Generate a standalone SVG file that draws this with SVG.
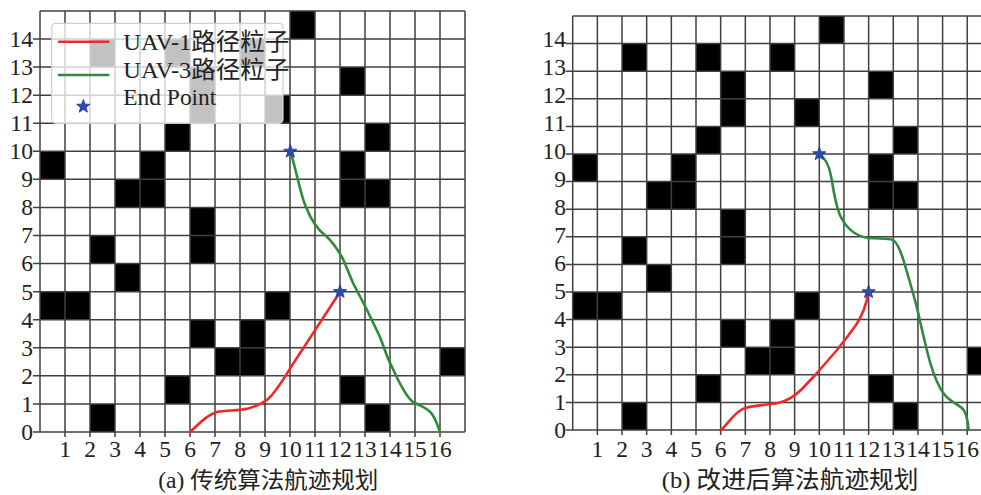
<svg xmlns="http://www.w3.org/2000/svg" xmlns:xlink="http://www.w3.org/1999/xlink" width="981" height="495" viewBox="0 0 981 495">
<style>
.obs rect{fill:#000}
.grid{fill:none;stroke:#404040;stroke-width:1.5}
.num{font-family:"Liberation Serif","Times New Roman",serif;font-size:23.5px;fill:#222}
.yl{text-anchor:end}
.xl{text-anchor:middle}
.cap{font-family:"Liberation Serif","Noto Sans CJK SC",serif;fill:#222}
.leg{font-family:"Liberation Serif","Noto Sans CJK SC",serif;font-size:24px;fill:#222}
.red{fill:none;stroke:#f02828;stroke-width:2.6;stroke-linecap:round;stroke-linejoin:round}
.green{fill:none;stroke:#2e8b3c;stroke-width:2.6;stroke-linecap:round;stroke-linejoin:round}
.star{fill:#2b4cb0;stroke:#1c3890;stroke-width:0.8}
</style>
<defs>
<path id="star" class="star" d="M0,-7 L1.7,-2.35 L6.66,-2.16 L2.76,0.9 L4.11,5.66 L0,2.9 L-4.11,5.66 L-2.76,0.9 L-6.66,-2.16 L-1.7,-2.35 Z"/>
<g id="obstacles" class="obs">
<rect x="10" y="14" width="1" height="1"/>
<rect x="2" y="13" width="1" height="1"/><rect x="5" y="13" width="1" height="1"/><rect x="8" y="13" width="1" height="1"/>
<rect x="6" y="11" width="1" height="2"/><rect x="12" y="12" width="1" height="1"/>
<rect x="9" y="11" width="1" height="1"/>
<rect x="5" y="10" width="1" height="1"/><rect x="13" y="10" width="1" height="1"/>
<rect x="0" y="9" width="1" height="1"/><rect x="4" y="8" width="1" height="2"/><rect x="12" y="8" width="1" height="2"/>
<rect x="3" y="8" width="1" height="1"/><rect x="13" y="8" width="1" height="1"/>
<rect x="6" y="6" width="1" height="2"/>
<rect x="2" y="6" width="1" height="1"/>
<rect x="3" y="5" width="1" height="1"/>
<rect x="0" y="4" width="2" height="1"/><rect x="9" y="4" width="1" height="1"/>
<rect x="6" y="3" width="1" height="1"/><rect x="8" y="2" width="1" height="2"/>
<rect x="7" y="2" width="1" height="1"/><rect x="16" y="2" width="1" height="1"/>
<rect x="5" y="1" width="1" height="1"/><rect x="12" y="1" width="1" height="1"/>
<rect x="2" y="0" width="1" height="1"/><rect x="13" y="0" width="1" height="1"/>
</g>
<path id="gridlines" class="grid" vector-effect="non-scaling-stroke" d="M-0.28,0H17M-0.28,1H17M-0.28,2H17M-0.28,3H17M-0.28,4H17M-0.28,5H17M-0.28,6H17M-0.28,7H17M-0.28,8H17M-0.28,9H17M-0.28,10H17M-0.28,11H17M-0.28,12H17M-0.28,13H17M-0.28,14H17M0,15H17M0,0V15M1,-0.18V15M2,-0.18V15M3,-0.18V15M4,-0.18V15M5,-0.18V15M6,-0.18V15M7,-0.18V15M8,-0.18V15M9,-0.18V15M10,-0.18V15M11,-0.18V15M12,-0.18V15M13,-0.18V15M14,-0.18V15M15,-0.18V15M16,-0.18V15M17,0V15"/>
</defs>
<rect width="981" height="495" fill="#fff"/>

<g id="panel-a">
<g id="grid-a" transform="translate(40,432) scale(25,-28.07)">
<use xlink:href="#obstacles"/>
<use xlink:href="#gridlines"/>
</g>
<g id="axis-a" class="num">
<text class="yl" x="33" y="440">0</text><text class="yl" x="33" y="411.9">1</text><text class="yl" x="33" y="383.8">2</text><text class="yl" x="33" y="355.7">3</text><text class="yl" x="33" y="327.6">4</text><text class="yl" x="33" y="299.5">5</text><text class="yl" x="33" y="271.4">6</text><text class="yl" x="33" y="243.3">7</text><text class="yl" x="33" y="215.2">8</text><text class="yl" x="33" y="187.1">9</text><text class="yl" x="33" y="159">10</text><text class="yl" x="33" y="130.9">11</text><text class="yl" x="33" y="102.8">12</text><text class="yl" x="33" y="74.7">13</text><text class="yl" x="33" y="46.6">14</text>
<text class="xl" x="65" y="456.7">1</text><text class="xl" x="90" y="456.7">2</text><text class="xl" x="115" y="456.7">3</text><text class="xl" x="140" y="456.7">4</text><text class="xl" x="165" y="456.7">5</text><text class="xl" x="190" y="456.7">6</text><text class="xl" x="215" y="456.7">7</text><text class="xl" x="240" y="456.7">8</text><text class="xl" x="265" y="456.7">9</text><text class="xl" x="290" y="456.7">10</text><text class="xl" x="315" y="456.7">11</text><text class="xl" x="340" y="456.7">12</text><text class="xl" x="365" y="456.7">13</text><text class="xl" x="390" y="456.7">14</text><text class="xl" x="415" y="456.7">15</text><text class="xl" x="440" y="456.7">16</text>
</g>
<g id="connectors-a">
<path id="uav1-a" class="red" d="M190,432 C198,425 206,415 217,412 C227,410 238,411 248,408.5 C257,406 262,404 268,399 C276,392 283,380 291,367 L340,292"/>
<path id="uav3-a" class="green" d="M290.3,151.3 C296,168 300,194 306,207 C311,220 318,230 326,236 C334,243 338,250 343,259 L353,283 L367,310 L380,337 C385,350 388,360 392,367 C396,375 404,395 413,402 C420,406 427,407 432,414 C436,420 438,426 440,432"/>
</g>
<g id="endpoints-a">
<use xlink:href="#star" x="290.3" y="151.5"/>
<use xlink:href="#star" x="340" y="291.8"/>
</g>
<g id="legend">
<rect x="51.7" y="23.3" width="231.3" height="100" rx="4" fill="#fff" fill-opacity="0.76" stroke="#cfcfcf" stroke-width="1.2"/>
<line x1="59" y1="41.7" x2="108.3" y2="41.7" class="red"/>
<line x1="59" y1="75" x2="108.3" y2="75" class="green"/>
<use xlink:href="#star" x="83.3" y="106.5"/>
<text class="leg" x="123.3" y="50" textLength="166" lengthAdjust="spacingAndGlyphs">UAV-1路径粒子</text>
<text class="leg" x="123.3" y="78.3" textLength="166" lengthAdjust="spacingAndGlyphs">UAV-3路径粒子</text>
<text class="leg" x="123.3" y="105" textLength="93" lengthAdjust="spacingAndGlyphs">End Point</text>
</g>
<text id="caption-a" class="cap" x="158.3" y="488" font-size="22.5" textLength="220" lengthAdjust="spacingAndGlyphs">(a) 传统算法航迹规划</text>
</g>

<g id="panel-b">
<g id="grid-b" transform="translate(572.7,430) scale(24.66,-27.6)">
<use xlink:href="#obstacles"/>
<use xlink:href="#gridlines"/>
</g>
<g id="axis-b" class="num">
<text class="yl" x="566" y="438.3">0</text><text class="yl" x="566" y="410.4">1</text><text class="yl" x="566" y="382.4">2</text><text class="yl" x="566" y="354.5">3</text><text class="yl" x="566" y="326.5">4</text><text class="yl" x="566" y="298.6">5</text><text class="yl" x="566" y="270.6">6</text><text class="yl" x="566" y="242.7">7</text><text class="yl" x="566" y="214.7">8</text><text class="yl" x="566" y="186.8">9</text><text class="yl" x="566" y="158.8">10</text><text class="yl" x="566" y="130.9">11</text><text class="yl" x="566" y="102.9">12</text><text class="yl" x="566" y="75">13</text><text class="yl" x="566" y="47">14</text>
<text class="xl" x="597.4" y="456.7">1</text><text class="xl" x="622" y="456.7">2</text><text class="xl" x="646.7" y="456.7">3</text><text class="xl" x="671.3" y="456.7">4</text><text class="xl" x="696" y="456.7">5</text><text class="xl" x="720.7" y="456.7">6</text><text class="xl" x="745.3" y="456.7">7</text><text class="xl" x="770" y="456.7">8</text><text class="xl" x="794.6" y="456.7">9</text><text class="xl" x="819.3" y="456.7">10</text><text class="xl" x="844" y="456.7">11</text><text class="xl" x="868.6" y="456.7">12</text><text class="xl" x="893.3" y="456.7">13</text><text class="xl" x="918" y="456.7">14</text><text class="xl" x="942.6" y="456.7">15</text><text class="xl" x="967.3" y="456.7">16</text>
</g>
<g id="connectors-b">
<path id="uav1-b" class="red" d="M721,430 C728,424 735,411 745,408 C755,405 768,405 778,403 C788,401 795,396 802,389 L817,373 L837,350 C845,340 851,332 856,325 C862,316 866,306 868.6,292"/>
<path id="uav3-b" class="green" d="M819.3,154 C826,158 829,166 831,176 C834,192 836,210 842,219 C848,230 856,236 868,238 C880,239 888,238 893,240 C898,243 901,252 904,262 C910,282 914,296 918,312 C922,330 926,348 930,362 C934,376 938,386 944,394 C950,402 958,404 963,409 C967,414 968,422 968.6,430"/>
</g>
<g id="endpoints-b">
<use xlink:href="#star" x="819.3" y="154"/>
<use xlink:href="#star" x="868.6" y="292"/>
</g>
<text id="caption-b" class="cap" x="661.7" y="488" font-size="23.5" textLength="256.6" lengthAdjust="spacingAndGlyphs">(b) 改进后算法航迹规划</text>
</g>
</svg>
